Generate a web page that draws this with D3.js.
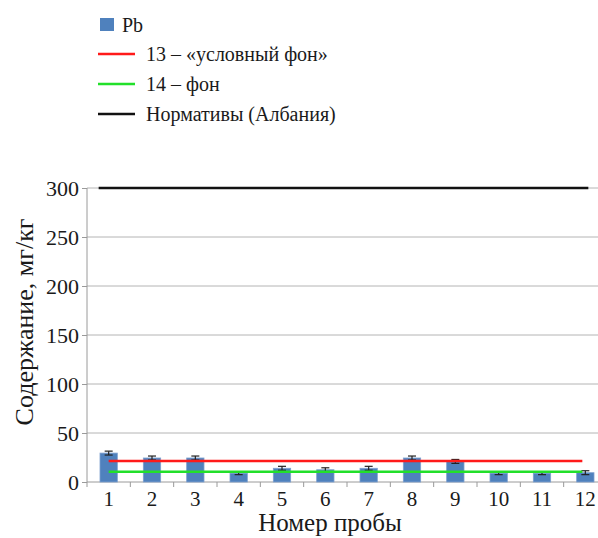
<!DOCTYPE html>
<html>
<head>
<meta charset="utf-8">
<script src="https://cdn.jsdelivr.net/npm/d3@7"></script>
<style>
  body { margin: 0; background: #fff; overflow: hidden; }
  svg text { font-family: "Liberation Serif", "DejaVu Serif", "Times New Roman", serif !important; fill: #1a1a1a; }
</style>
</head>
<body>
<div id="chart"></div>
<script>
// sample numbers and Pb content, mg/kg
var samples = ["1", "2", "3", "4", "5", "6", "7", "8", "9", "10", "11", "12"];
var pbValues = [29.5, 24.5, 24.5, 9, 14, 12.5, 14, 24.5, 21, 9, 9, 9.5];
var pbErrors = [2, 2, 2, 1.5, 2, 2, 2, 2, 2, 1.5, 1.5, 2];
var conditionalBackground = 21.5;   // 13 – «условный фон»
var background = 10.5;              // 14 – фон
var normAlbania = 300;
var yTicks = [0, 50, 100, 150, 200, 250, 300];

var legendItems = [
    { label: "Pb", type: "rect", color: "#4f81bd" },
    { label: "13 – «условный фон»", type: "line", color: "#ff1a1a" },
    { label: "14 – фон", type: "line", color: "#22e02a" },
    { label: "Нормативы (Албания)", type: "line", color: "#111" }
];

window.onload = () => {
    var w = 598;
    var h = 538;

    var svg = d3.select("#chart")
        .append("svg")
        .attr("width", w)
        .attr("height", h);

    var xScale = d3.scaleBand()
        .domain(samples)
        .range([87, 607])
        .paddingInner(0.6)
        .paddingOuter(0.3);

    var yScale = d3.scaleLinear()
        .domain([0, 300])
        .range([482, 188]);

    // gridlines
    svg.append("g")
        .selectAll("line")
        .data(yTicks.slice(1))
        .enter()
        .append("line")
        .attr("x1", 87)
        .attr("x2", 607)
        .attr("y1", (d) => yScale(d))
        .attr("y2", (d) => yScale(d))
        .attr("stroke", "#b4b4b4")
        .attr("stroke-width", 1);

    var yAxis = d3.axisLeft(yScale)
        .tickValues(yTicks)
        .tickSize(5)
        .tickPadding(3);

    var yG = svg.append("g")
        .attr("transform", "translate(87, 0)")
        .call(yAxis);
    yG.attr("font-family", null);
    yG.selectAll("path, line").attr("stroke", "#9a9a9a");
    yG.select(".domain").attr("d", "M0," + yScale(300) + "V" + yScale(0));
    yG.selectAll("text")
        .style("font-size", "22px")
        .attr("fill", "#1a1a1a");

    // x axis with ticks between categories
    var xG = svg.append("g")
        .attr("transform", `translate(0, ${yScale(0)})`);
    xG.append("line")
        .attr("x1", 87).attr("x2", 607)
        .attr("stroke", "#9a9a9a");
    var step = xScale.step();
    xG.selectAll(".tk")
        .data(samples)
        .enter()
        .append("line")
        .attr("x1", (d) => xScale(d) - xScale.paddingOuter() * step)
        .attr("x2", (d) => xScale(d) - xScale.paddingOuter() * step)
        .attr("y1", 0).attr("y2", 5)
        .attr("stroke", "#9a9a9a");
    xG.selectAll("text")
        .data(samples)
        .enter()
        .append("text")
        .attr("x", (d) => xScale(d) + xScale.bandwidth() / 2)
        .attr("y", 24)
        .attr("text-anchor", "middle")
        .style("font-size", "21px")
        .text((d) => d);

    // bars
    svg.append("g")
        .selectAll("rect")
        .data(samples)
        .enter()
        .append("rect")
        .attr("x", (d) => xScale(d))
        .attr("y", (d, i) => yScale(pbValues[i]))
        .attr("width", xScale.bandwidth())
        .attr("height", (d, i) => yScale(0) - yScale(pbValues[i]))
        .attr("fill", "#4f81bd")
        .attr("stroke", "#7ea0cf")
        .attr("stroke-width", 0.8);

    // error bars
    var eb = svg.append("g").attr("stroke", "#222").attr("stroke-width", 1.2);
    samples.forEach((s, i) => {
        var cx = xScale(s) + xScale.bandwidth() / 2;
        var top = yScale(pbValues[i] + pbErrors[i]);
        var bot = yScale(pbValues[i] - pbErrors[i]);
        eb.append("line").attr("x1", cx).attr("x2", cx).attr("y1", top).attr("y2", bot);
        eb.append("line").attr("x1", cx - 4).attr("x2", cx + 4).attr("y1", top).attr("y2", top);
        eb.append("line").attr("x1", cx - 4).attr("x2", cx + 4).attr("y1", bot).attr("y2", bot);
    });

    // reference lines
    var firstC = xScale(samples[0]) + xScale.bandwidth() / 2;
    var lastC = xScale(samples[samples.length - 1]) + xScale.bandwidth() / 2;

    var refLine = (val, color, x1, x2, wdt) => {
        svg.append("line")
            .attr("x1", x1).attr("x2", x2)
            .attr("y1", yScale(val)).attr("y2", yScale(val))
            .attr("stroke", color)
            .attr("stroke-width", wdt);
    };
    refLine(conditionalBackground, "#ff1a1a", firstC, lastC - 3, 2.5);
    refLine(background, "#22e02a", firstC, lastC - 3, 2.5);
    refLine(normAlbania, "#111", firstC - 10, lastC + 3, 2.5);

    // axis titles
    svg.append("text")
        .attr("transform", "translate(33, 322) rotate(-90)")
        .attr("text-anchor", "middle")
        .style("font-size", "26px")
        .text("Содержание, мг/кг");

    svg.append("text")
        .attr("x", 330)
        .attr("y", 531)
        .attr("text-anchor", "middle")
        .style("font-size", "25px")
        .text("Номер пробы");

    // legend
    var lg = svg.append("g");
    legendItems.forEach((it, i) => {
        var y = 25 + i * 30;
        if (it.type === "rect") {
            lg.append("rect")
                .attr("x", 100).attr("y", y - 7)
                .attr("width", 14).attr("height", 13)
                .attr("fill", it.color);
            lg.append("text")
                .attr("x", 122).attr("y", y + 7)
                .style("font-size", "20px")
                .text(it.label);
        } else {
            lg.append("line")
                .attr("x1", 98).attr("x2", 135)
                .attr("y1", y - 1).attr("y2", y - 1)
                .attr("stroke", it.color)
                .attr("stroke-width", 2.5);
            lg.append("text")
                .attr("x", 146).attr("y", y + 6)
                .style("font-size", "20px")
                .text(it.label);
        }
    });
};
</script>
</body>
</html>
